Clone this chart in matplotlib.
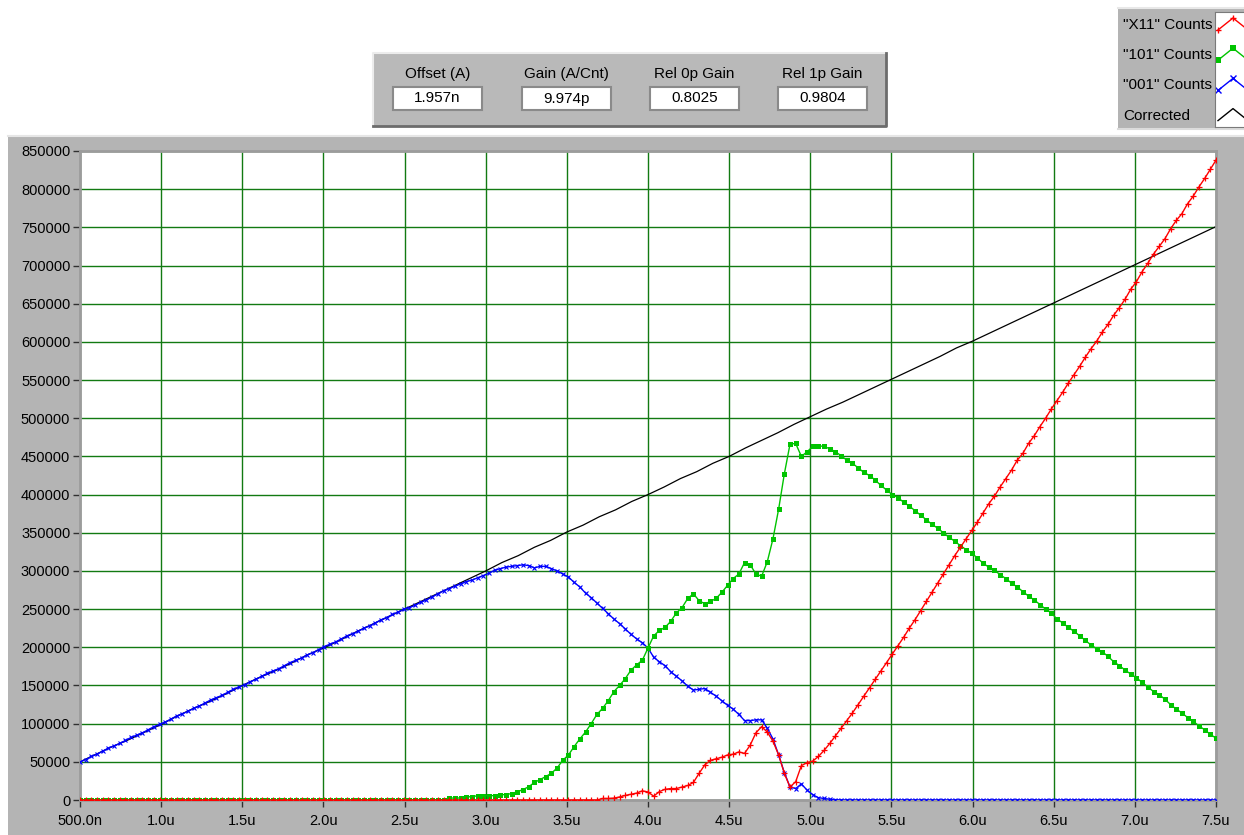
import numpy as np
import matplotlib
matplotlib.use('Agg')
import matplotlib.pyplot as plt
from matplotlib.patches import Rectangle
from matplotlib.lines import Line2D

plt.rcParams['font.family'] = ['Liberation Sans', 'DejaVu Sans']

# ---------------------------------------------------------------------------
# Data (counts in thousands, one bin every 0.035u from 0.5u to 7.5u)
x_start, x_step, n_pts = 0.5, 0.035, 201
x_u = x_start + x_step * np.arange(n_pts)

x11_k = [
    0, 0, 0, 0, 0, 0, 0, 0, 0, 0, 0, 0, 0, 0, 0, 0, 0, 0, 0, 0,
    0, 0, 0, 0, 0, 0, 0, 0, 0, 0, 0, 0, 0, 0, 0, 0, 0, 0, 0, 0,
    0, 0, 0, 0, 0, 0, 0, 0, 0, 0, 0, 0, 0, 0, 0, 0, 0, 0, 0, 0,
    0, 0, 0, 0, 0, 0, 0, 0, 0, 0, 0, 0, 0, 0, 0, 0, 0, 0, 0, 0,
    0, 0, 0, 0, 0, 0, 0, 0, 0, 0, 0, 0,
    2, 2, 2.5, 4, 6, 7.5, 9, 12,
    10.5, 5, 11, 14, 15, 15, 17, 19, 23, 35,
    46, 52, 54, 56, 59, 60, 63, 61, 72, 88,
    96, 89, 77, 59, 35, 17, 24, 45, 49, 51,
    57,
    65, 74, 84, 94, 104, 114, 125, 136, 147, 158,
    169, 180, 191, 202, 213, 225, 236, 248, 260, 272,
    284, 296, 308, 320, 331, 342, 353, 364, 376, 388,
    398, 410, 421, 432, 445, 454, 467, 477, 489, 500,
    512, 523, 534, 546, 557, 568, 580, 591, 601, 613,
    623, 635, 645, 656, 669, 679, 692, 703, 715, 725,
    735, 748, 759, 768, 781, 791, 803, 814, 826, 838,
]

c101_k = [
    0, 0, 0, 0, 0, 0, 0, 0, 0, 0, 0, 0, 0, 0, 0, 0, 0, 0, 0, 0,
    0, 0, 0, 0, 0, 0, 0, 0, 0, 0, 0, 0, 0, 0, 0, 0, 0, 0, 0, 0,
    0, 0, 0, 0, 0, 0, 0, 0, 0, 0, 0, 0, 0, 0, 0, 0, 0, 0, 0, 0,
    0, 0, 0, 0,
    0.5, 2.5, 2.6, 2.6, 4, 4.4, 5.5, 5.7, 5.7, 5.7,
    7, 7, 8.5, 10.7, 13.7, 17.3, 23, 26.7, 30.7, 35,
    42, 52, 59, 70, 80, 89, 100, 112, 120, 130,
    142, 150, 159, 170, 177, 183, 199, 215, 222, 226,
    234, 245, 252, 264, 270, 261, 257, 260, 264, 272,
    281, 290, 296, 311, 308, 296, 293, 312, 342, 381,
    427, 466, 467, 450, 456, 463, 464, 463, 460, 456,
    451, 445, 441, 435, 429, 425, 419, 412, 406, 400,
    396, 390, 385, 379, 373, 367, 361, 356, 350, 344,
    339, 333, 328, 323, 317, 310, 305, 301, 295, 290,
    284, 279, 273, 267, 262, 256, 250, 245, 237, 232,
    226, 221, 215, 209, 203, 198, 194, 188, 181, 176,
    170, 165, 160, 154, 148, 142, 138, 132, 125, 119,
    114, 108, 103, 97, 92, 86, 81,
]

c001_k = [
    50, 53, 57, 60, 64, 68, 71, 74, 78, 82,
    85, 88, 92, 96, 99, 102, 106, 110, 113, 116,
    120, 123, 127, 131, 134, 137, 141, 145, 148, 151,
    155, 158, 162, 166, 169, 172, 176, 180, 183, 186,
    190, 193, 197, 201, 204, 207, 211, 215, 218, 221,
    225,
    228, 232, 236, 239, 243, 246, 250, 252, 255,
    259, 262, 266, 270, 274, 277, 280, 283, 286, 288,
    291, 294, 297, 301, 303, 305, 306, 307, 308, 307,
    304, 306, 306, 303, 300, 296, 292, 285, 279, 271,
    265, 258, 251, 244, 237, 231, 224, 217, 211, 206,
    199, 187, 181, 176, 168, 162, 156, 149, 144, 145,
    146, 141, 136, 130, 124, 119, 112, 104, 104, 105,
    105, 94, 80, 59, 36, 17, 15, 21, 13, 7,
    3, 2, 1, 0.5,
    0, 0, 0, 0, 0, 0, 0, 0, 0, 0, 0, 0, 0, 0, 0, 0, 0, 0, 0, 0,
    0, 0, 0, 0, 0, 0, 0, 0, 0, 0, 0, 0, 0, 0, 0, 0, 0, 0, 0, 0,
    0, 0, 0, 0, 0, 0, 0, 0, 0, 0, 0, 0, 0, 0, 0, 0, 0, 0, 0, 0,
    0, 0, 0, 0, 0, 0, 0,
]

# corrected curve, read every 0.1u
corr_x = np.round(np.arange(0.5, 7.55, 0.1), 2)
corr_k = [
    50, 60, 70, 79, 89, 99, 110, 120, 129, 139,
    150, 160, 169, 179, 190, 199, 209, 220, 230, 240,
    250, 260, 270, 280, 290, 300, 311, 320, 331, 340,
    351, 360, 371, 380, 391, 400, 410, 421, 430, 441,
    450, 461, 471, 481, 492, 502, 512, 521, 531, 541,
    551, 561, 571, 581, 592, 601, 611, 621, 631, 641,
    651, 661, 671, 681, 691, 701, 711, 721, 731, 741,
    751,
]

assert len(x11_k) == n_pts and len(c101_k) == n_pts and len(c001_k) == n_pts
assert len(corr_k) == len(corr_x)

x_ticks = np.arange(0.5, 7.51, 0.5)
x_labels = ['500.0n', '1.0u', '1.5u', '2.0u', '2.5u', '3.0u', '3.5u', '4.0u',
            '4.5u', '5.0u', '5.5u', '6.0u', '6.5u', '7.0u', '7.5u']
y_ticks = np.arange(0, 850001, 50000)

legend_names = ['"X11" Counts', '"101" Counts', '"001" Counts', 'Corrected']
param_names = ['Offset (A)', 'Gain (A/Cnt)', 'Rel 0p Gain', 'Rel 1p Gain']
param_values = ['1.957n', '9.974p', '0.8025', '0.9804']

#########################################################################################

W, H = 1244, 835
fig = plt.figure(figsize=(W / 100, H / 100), dpi=100, facecolor='white')


def fx(px):
    return px / W


def fy(py):
    return 1 - py / H


# gray frame around the graph
fig.add_artist(Rectangle((fx(8), 0), fx(W) - fx(8), fy(137), transform=fig.transFigure,
                         facecolor='#b4b4b4', edgecolor='none', zorder=-5))
fig.add_artist(Line2D([fx(8), fx(W)], [fy(136), fy(136)], transform=fig.transFigure,
                      color='#e6e6e6', lw=1.5, zorder=-4))

# graph
ax = fig.add_axes([fx(80), fy(800), fx(1216) - fx(80), fy(151) - fy(800)])
ax.set_facecolor('white')

ax.plot(corr_x, np.array(corr_k) * 1000, color='black', lw=0.9, zorder=2)
ax.plot(x_u, np.array(c001_k) * 1000, color='#0000ff', lw=1, marker='x', ms=3.5,
        mew=0.8, zorder=3)
ax.plot(x_u, np.array(c101_k) * 1000, color='#00c400', lw=1, marker='s', ms=3.6,
        mew=0, zorder=4)
ax.plot(x_u, np.array(x11_k) * 1000, color='#ff0000', lw=1, marker='+', ms=4,
        mew=0.9, zorder=5)

ax.set_xlim(0.5, 7.5)
ax.set_ylim(0, 850000)
ax.set_xticks(x_ticks)
ax.set_xticklabels(x_labels)
ax.set_yticks(y_ticks)
ax.set_yticklabels([str(v) for v in y_ticks])
ax.grid(True, color='#127a12', lw=1)
ax.set_axisbelow(True)
ax.tick_params(direction='out', length=5, width=1, color='#303030',
               labelsize=10.5, labelcolor='black')
ax.tick_params(axis='x', pad=5)
ax.tick_params(axis='y', pad=2)
for side in ['left', 'top', 'right', 'bottom']:
    ax.spines[side].set_color('#9c9c9c')
    ax.spines[side].set_linewidth(2)

#########################################################################################

# parameter panel
fig.add_artist(Rectangle((fx(373), fy(126)), fx(886) - fx(373), fy(53) - fy(126),
                         transform=fig.transFigure, facecolor='#b9b9b9', edgecolor='none',
                         zorder=-5))
fig.add_artist(Line2D([fx(373), fx(373), fx(886)], [fy(126), fy(53), fy(53)],
                      transform=fig.transFigure, color='#ececec', lw=1.5, zorder=-4))
fig.add_artist(Line2D([fx(373), fx(886), fx(886)], [fy(126), fy(126), fy(53)],
                      transform=fig.transFigure, color='#6c6c6c', lw=2, zorder=-4))

box_left = [393, 522, 650, 778]
for name, value, bx in zip(param_names, param_values, box_left):
    fig.add_artist(Rectangle((fx(bx), fy(110)), fx(89), fy(87) - fy(110),
                             transform=fig.transFigure, facecolor='white',
                             edgecolor='#8a8a8a', lw=1.5, zorder=-3))
    fig.text(fx(bx + 44.5), fy(74), name, ha='center', va='center', fontsize=11)
    fig.text(fx(bx + 44.5), fy(98.5), value, ha='center', va='center', fontsize=11)

# legend
fig.add_artist(Rectangle((fx(1118), fy(128)), fx(W) - fx(1118), fy(8) - fy(128),
                         transform=fig.transFigure, facecolor='#b4b4b4', edgecolor='none',
                         zorder=-5))
fig.add_artist(Line2D([fx(1118), fx(W)], [fy(8), fy(8)], transform=fig.transFigure,
                      color='#e8e8e8', lw=1.5, zorder=-4))
fig.add_artist(Line2D([fx(1118), fx(W)], [fy(129), fy(129)], transform=fig.transFigure,
                      color='#dcdcdc', lw=1.5, zorder=-4))

lax = fig.add_axes([fx(1215), fy(127), fx(W) - fx(1215), fy(12) - fy(127)])
lax.set_facecolor('white')
lax.set_xlim(1215, W)
lax.set_ylim(127, 12)
lax.set_xticks([])
lax.set_yticks([])
for side in ['left', 'top', 'bottom']:
    lax.spines[side].set_color('#7a7a7a')
lax.spines['right'].set_visible(False)

swatch_styles = [
    dict(color='#ff0000', marker='+', ms=5, mew=1),
    dict(color='#00c400', marker='s', ms=4, mew=0),
    dict(color='#0000ff', marker='x', ms=4, mew=1),
    dict(color='black', marker=None),
]
for k, (name, style) in enumerate(zip(legend_names, swatch_styles)):
    yc = 25 + 30.2 * k
    lax.plot([1218, 1233, 1248], [yc + 5, yc - 7, yc + 5], lw=1, clip_on=True, **style)
    fig.text(fx(1123), fy(yc), name, ha='left', va='center', fontsize=11)

plt.savefig('out.png', dpi=100, facecolor='white')
plt.close()
